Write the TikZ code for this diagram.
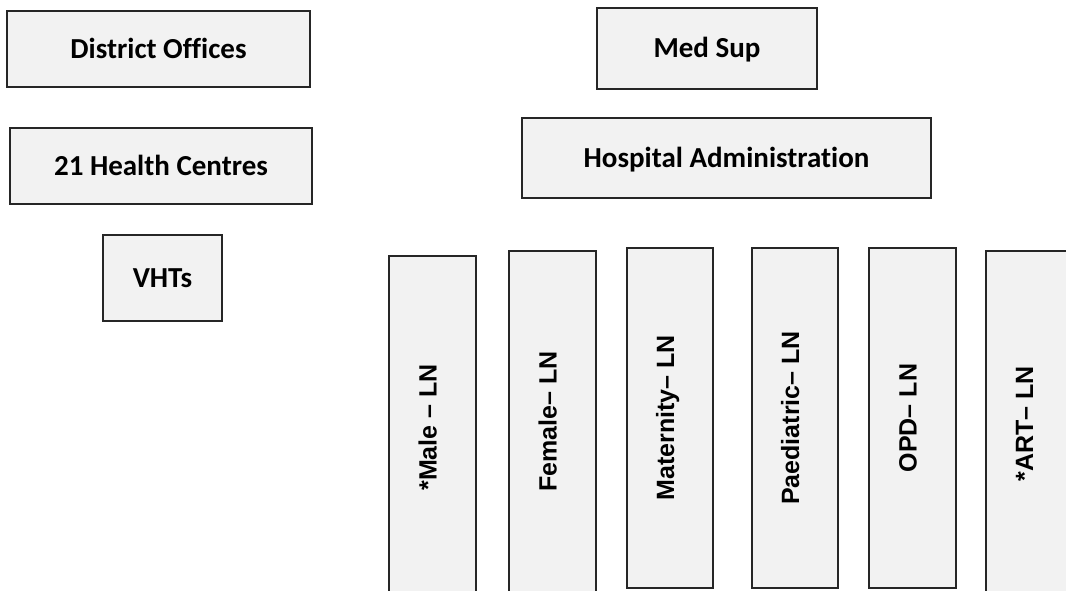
\documentclass[tikz,border=0pt]{standalone}
\usepackage{fontspec}
\setmainfont{Carlito}[Ligatures=NoCommon]
\newfontfamily\wardfont{Liberation Sans}
\begin{document}
\begin{tikzpicture}[x=1pt,y=-1pt,
  unitbox/.style={draw=black!85, line width=1.6pt, fill=black!5, inner sep=0pt,
    font=\fontsize{29}{34}\selectfont\bfseries, text height=19pt, text depth=0pt},
  wardbox/.style={draw=black!85, line width=1.6pt, fill=black!5, inner sep=0pt,
    rotate=90, font=\wardfont\fontsize{25}{30}\selectfont\bfseries,
    text height=18pt, text depth=10pt}]
  \useasboundingbox (0,0) rectangle (1066,591);

  % district side
  \node[unitbox, minimum width=303pt, minimum height=76pt] (dist) at (158.5,49) {District Offices};
  \node[unitbox, minimum width=302pt, minimum height=76pt] (hc) at (161,166) {21 Health Centres};
  \node[unitbox, minimum width=119pt, minimum height=86pt] (vht) at (162.5,278) {VHTs};

  % hospital side
  \node[unitbox, minimum width=220pt, minimum height=81pt] (med) at (707,48.5) {Med Sup};
  \node[unitbox, minimum width=409pt, minimum height=80pt] (hosp) at (726.5,158) {Hospital Administration};

  % wards
  \node[wardbox, minimum width=343pt, minimum height=87pt] (male) at (432.5,427.5) {*Male – LN};
  \node[wardbox, minimum width=341pt, minimum height=87pt] (female) at (552.5,421.5) {Female– LN};
  \node[wardbox, minimum width=340pt, minimum height=86pt] (mat) at (670,418) {Maternity– LN};
  \node[wardbox, minimum width=340pt, minimum height=86pt] (paed) at (795,418) {Paediatric– LN};
  \node[wardbox, minimum width=340pt, minimum height=87pt] (opd) at (912.5,418) {OPD– LN};
  \node[wardbox, minimum width=346pt, minimum height=86pt] (art) at (1029,424) {*ART– LN};
\end{tikzpicture}
\end{document}
